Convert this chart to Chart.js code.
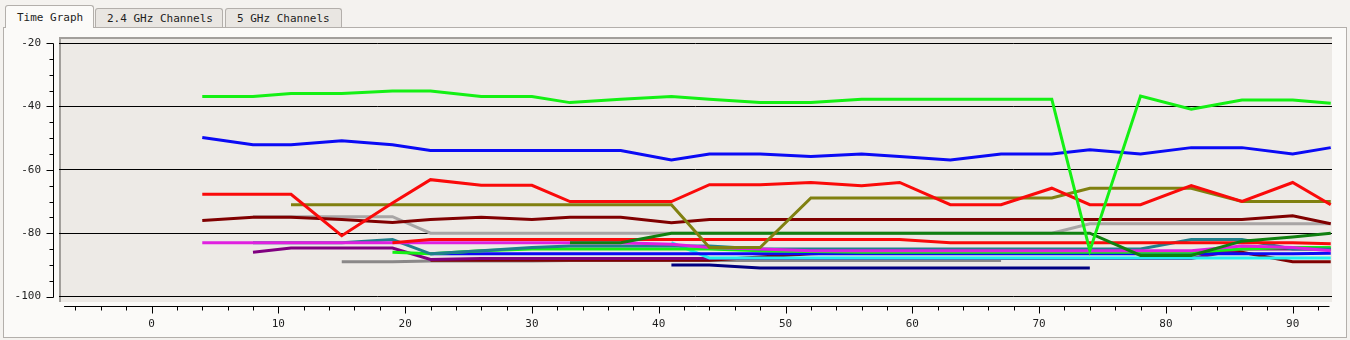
<!DOCTYPE html>
<html>
<head>
<meta charset="utf-8">
<script src="https://cdn.jsdelivr.net/npm/chart.js@4.4.0/dist/chart.umd.min.js"></script>
<style>
body { margin:0; width:1350px; height:340px; background:#f4f2ef; font-family:"DejaVu Sans Mono", monospace; font-size:11px; overflow:hidden; position:relative; color:#1e1e1e; }
.panel { position:absolute; left:3px; top:27px; width:1342px; height:309px; border:1px solid #b3afab; background:#fbfaf8; }
.tab { position:absolute; top:8px; height:19px; border:1px solid #b3afab; border-bottom:none; background:#e9e6e2; line-height:19px; padding-left:11px; box-sizing:border-box; border-radius:3px 3px 0 0; white-space:nowrap; }
.tab.active { top:5px; height:23px; background:#fbfaf8; line-height:24px; z-index:2; }
#wrap { position:absolute; left:0; top:0; width:1350px; height:340px; z-index:3; }
</style>
</head>
<body>
<div class="panel"></div>
<div class="tab active" style="left:5px;width:89px;">Time Graph</div>
<div class="tab" style="left:95px;width:128px;">2.4 GHz Channels</div>
<div class="tab" style="left:225px;width:117px;">5 GHz Channels</div>
<div id="wrap"><canvas id="chart"></canvas></div>
<script>
// sample times (s) shared by all series
var times = [4, 8, 11, 15, 19, 22, 26, 30, 33, 37, 41, 44, 48, 52, 56, 59, 63, 67, 71, 74, 78, 82, 86, 90, 93];
var xTicks = [0, 10, 20, 30, 40, 50, 60, 70, 80, 90];
var yTicks = [-100, -80, -60, -40, -20];

// signal levels (dBm), null = no reading
var lime = [-36.9, -36.9, -35.9, -35.9, -35.1, -35.1, -36.9, -36.9, -38.8, -37.7, -36.9, -37.7, -38.8, -38.8, -37.7, -37.7, -37.7, -37.7, -37.7, -85.5, -36.7, -40.9, -38, -38, -39];
var blue = [-49.8, -52.1, -52.1, -50.8, -52.1, -53.9, -53.9, -53.9, -53.9, -53.9, -56.9, -55, -55, -55.8, -55, -55.8, -56.9, -55, -55, -53.7, -55, -53, -53, -55, -53];
var red = [-67.7, -67.7, -67.7, -80.8, -70.5, -63.1, -64.9, -64.9, -70, -70, -70, -64.7, -64.7, -64, -65, -64, -71, -71, -65.8, -71, -71, -65, -70, -64, -71];
var olive = [null, null, -71, -71, -71, -71, -71, -71, -71, -71, -71, -84.5, -84.5, -68.9, -68.9, -68.9, -68.9, -68.9, -68.9, -65.8, -65.8, -65.8, -70, -70, -70];
var maroon = [-76, -75, -75, -75.7, -76.6, -75.7, -75, -75.7, -75, -75, -76.7, -75.7, -75.7, -75.7, -75.7, -75.7, -75.7, -75.7, -75.7, -75.7, -75.7, -75.7, -75.7, -74.5, -77];
var silver = [null, -74.8, -74.8, -74.8, -74.8, -80, -80, -80, -80, -80, -80, -80, -80, -80, -80, -80, -80, -80, -80, -77, -77, -77, -77, -77, -77];
var darkGreen = [null, null, null, null, null, null, null, null, -83, -83, -80, -80, -80, -80, -80, -80, -80, -80, -80, -80, -87, -87, -82.5, -81.2, -80];
var redLow = [null, null, null, null, -83, -82, -82, -82, -82, -82, -82, -82, -82, -82, -82, -82, -83, -83, -83, -83, -83, -83, -83, -83, -83.3];
var magenta = [-83, -83, -83, -83, -83, -83, -83, -83, -83, -83, -83.5, -84.5, -85, -85.5, -85.5, -85.5, -85.5, -85.5, -85.5, -85.5, -85.5, -85.5, -84, -84.5, -85.5];
var teal = [null, -83, -83, -83, -82, -86.5, -85.5, -84.5, -84, -84, -84, -84, -85, -85, -85, -85, -85, -85, -85, -85, -85, -82, -82, -85, -85];
var limeLow = [null, null, null, null, -86, -86.5, -85.5, -85, -85, -85, -85, -85, -85.5, -85.8, -86, -86, -86, -86, -86, -86, -86, -86, -85, -84.5, -84.5];
var blueLow = [null, null, null, null, null, -86.5, -86.5, -86.5, -86.5, -86.5, -86.5, -86.5, -86.5, -86.5, -86.5, -86.5, -86.5, -86.5, -86.5, -86.5, -86.5, -86.5, -86.5, -86.5, -86.3];
var cyan = [null, null, null, null, null, null, null, null, null, null, -83, -87.8, -87.8, -87.8, -87.8, -87.8, -87.8, -87.8, -87.8, -87.8, -87.8, -87.8, -87.8, -87.8, -87.8];
var purple = [null, -86, -84.7, -84.7, -84.7, -88.3, -88, -88, -88, -88, -88, -88, -88, -88, -88, -88, -88, -88, -88, -88, -88, -88, -85, -85, -85];
var maroonLow = [null, null, null, null, null, -88.5, -88.5, -88.5, -88.5, -88.5, -88.5, -88.5, -87.5, -86.5, -86, -86, -86, -86, -86, -86, -86, -86, -86, -89, -89];
var grayLow = [null, null, null, -89, -89, -88.8, -88.8, -88.8, -88.6, -88.6, -88.6, -88.6, -88.6, -88.6, -88.6, -88.6, -88.6, -88.6, null, null, null, null, null, null, null];
var navy = [null, null, null, null, null, null, null, null, null, null, -90, -90, -91, -91, -91, -91, -91, -91, -91, -91, null, null, null, null, null];

// first in list is drawn on top
var series = [
    [lime, '#14f014'],
    [blue, '#0a0af5'],
    [red, '#fa0a0a'],
    [olive, '#808010'],
    [maroon, '#800000'],
    [darkGreen, '#108010'],
    [silver, '#a8a5a5'],
    [redLow, '#fa0a0a'],
    [magenta, '#e020e0'],
    [teal, '#20808c'],
    [limeLow, '#14f014'],
    [blueLow, '#0a0af5'],
    [cyan, '#20f0f0'],
    [purple, '#800080'],
    [maroonLow, '#800000'],
    [grayLow, '#8a8888'],
    [navy, '#000080']
];

var xAxisRange = [-6.9, 92.9];
var yAxisRange = [-100, -20];

function makeSet(vals, color) {
    return {
        data: times.map(function (t, i) { return { x: t, y: vals[i] }; }),
        borderColor: color,
        backgroundColor: color,
        borderWidth: 3,
        pointRadius: 0,
        tension: 0,
        spanGaps: false
    };
}

var frame = {
    id: 'frame',
    beforeDraw: function (chart) {
        var ctx = chart.ctx, a = chart.chartArea;
        ctx.save();
        ctx.fillStyle = '#edeae6';
        ctx.fillRect(a.left, a.top, a.right - a.left, a.bottom - a.top);
        ctx.strokeStyle = '#a29f9b';
        ctx.lineWidth = 2;
        ctx.beginPath();
        ctx.moveTo(a.left + 1, a.bottom);
        ctx.lineTo(a.left + 1, a.top + 1);
        ctx.lineTo(a.right, a.top + 1);
        ctx.stroke();
        ctx.restore();
    },
    afterDraw: function (chart) {
        var ctx = chart.ctx, a = chart.chartArea;
        var xs = chart.scales.x, ys = chart.scales.y;
        var ax = a.left - 5.5;
        var ay = a.bottom + 4.5;
        ctx.save();
        ctx.strokeStyle = '#000';
        ctx.lineWidth = 1;
        ctx.beginPath();
        // y axis
        ctx.moveTo(ax, Math.round(ys.getPixelForValue(yAxisRange[0])) + 0.5);
        ctx.lineTo(ax, Math.round(ys.getPixelForValue(yAxisRange[1])) + 0.5);
        for (var v = yAxisRange[0]; v <= yAxisRange[1]; v += 5) {
            var py = Math.round(ys.getPixelForValue(v)) + 0.5;
            var len = (v % 20 === 0) ? 7 : 4;
            ctx.moveTo(ax, py);
            ctx.lineTo(ax - len, py);
        }
        // x axis
        ctx.moveTo(xs.getPixelForValue(xAxisRange[0]), ay);
        ctx.lineTo(xs.getPixelForValue(xAxisRange[1]), ay);
        for (var t = -6; t <= 92; t += 2) {
            var px = Math.round(xs.getPixelForValue(t)) + 0.5;
            var l2 = (t % 10 === 0) ? 7 : 4;
            ctx.moveTo(px, ay);
            ctx.lineTo(px, ay + l2);
        }
        ctx.stroke();
        ctx.restore();
    }
};

var chart = new Chart(document.getElementById('chart').getContext('2d'), {
    type: 'line',
    data: {
        datasets: series.map(function (s) { return makeSet(s[0], s[1]); })
    },
    options: {
        responsive: true,
        maintainAspectRatio: false,
        animation: false,
        layout: {
            padding: { top: 37, right: 18, bottom: 0, left: 0 }
        },
        plugins: {
            legend: { display: false },
            tooltip: { enabled: false }
        },
        scales: {
            x: {
                type: 'linear',
                min: -7.3,
                max: 93.1,
                afterFit: function (scale) { scale.height = 38; },
                afterBuildTicks: function (scale) {
                    scale.ticks = xTicks.map(function (v) { return { value: v }; });
                },
                grid: { display: false, drawTicks: false },
                border: { display: false },
                ticks: {
                    padding: 16,
                    color: '#1e1e1e',
                    font: { family: 'DejaVu Sans Mono', size: 11 },
                    maxRotation: 0,
                    autoSkip: false
                }
            },
            y: {
                min: -101.7,
                max: -18.1,
                afterFit: function (scale) { scale.width = 59; },
                afterBuildTicks: function (scale) {
                    scale.ticks = yTicks.map(function (v) { return { value: v }; });
                },
                grid: { color: '#000', lineWidth: 1, drawTicks: false },
                border: { display: false },
                ticks: {
                    padding: 18,
                    color: '#1e1e1e',
                    font: { family: 'DejaVu Sans Mono', size: 11 },
                    autoSkip: false
                }
            }
        }
    },
    plugins: [frame]
});
</script>
</body>
</html>
